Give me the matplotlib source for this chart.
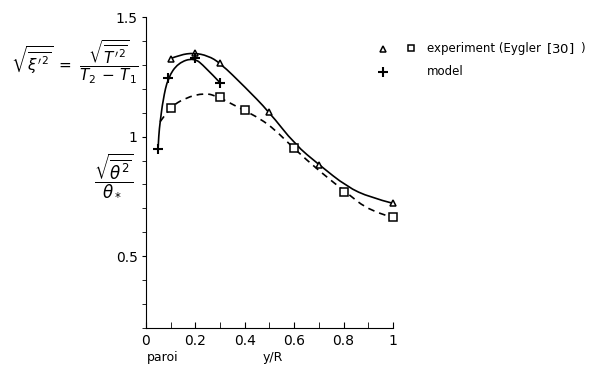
import matplotlib.pyplot as plt
from matplotlib.lines import Line2D
from matplotlib.path import Path
from matplotlib.patches import PathPatch
from matplotlib.ticker import MultipleLocator

# experiment (Eygler [30]) - triangles
tri_x = [0.1, 0.2, 0.3, 0.5, 0.7, 1.0]
tri_y = [1.325, 1.35, 1.308, 1.104, 0.883, 0.721]
# experiment - squares
sq_x = [0.1, 0.3, 0.4, 0.6, 0.8, 1.0]
sq_y = [1.121, 1.167, 1.112, 0.954, 0.767, 0.662]
# model - crosses
mod_x = [0.05, 0.09, 0.2, 0.3]
mod_y = [0.95, 1.246, 1.33, 1.225]

# hand drawn curves
tri_cx = [0.097, 0.138, 0.194, 0.251, 0.30, 0.40, 0.498, 0.603, 0.70, 0.814, 0.907, 1.0]
tri_cy = [1.325, 1.342, 1.35, 1.338, 1.308, 1.208, 1.104, 0.967, 0.883, 0.79, 0.746, 0.721]
sq_cx = [0.057, 0.097, 0.158, 0.239, 0.291, 0.393, 0.462, 0.522, 0.595, 0.704, 0.81, 0.907, 1.0]
sq_cy = [1.062, 1.121, 1.162, 1.183, 1.167, 1.112, 1.075, 1.029, 0.954, 0.854, 0.767, 0.688, 0.662]
mod_cx = [0.049, 0.052, 0.057, 0.069, 0.089, 0.13, 0.194, 0.239, 0.30]
mod_cy = [0.95, 1.01, 1.058, 1.154, 1.246, 1.308, 1.33, 1.292, 1.225]

xticks = [0, 0.2, 0.4, 0.6, 0.8, 1.0]
xlabels = ['0', '0.2', '0.4', '0.6', '0.8', '1']
yticks = [0.5, 1.0, 1.5]
ylabels = ['0.5', '1', '1.5']


def smooth_curve(ax, xs, ys, **kw):
    # quadratic bezier through the midpoints, read points act as control points
    pts = list(zip(xs, ys))
    verts = [pts[0]]
    codes = [Path.MOVETO]
    for i in range(1, len(pts) - 1):
        mid = ((pts[i][0] + pts[i + 1][0]) / 2, (pts[i][1] + pts[i + 1][1]) / 2)
        if i == len(pts) - 2:
            mid = pts[-1]
        verts += [pts[i], mid]
        codes += [Path.CURVE3, Path.CURVE3]
    ax.add_patch(PathPatch(Path(verts, codes), fill=False, **kw))


fig = plt.figure(figsize=(5.99, 3.68), dpi=100)
ax = fig.add_axes([0.2437, 0.1087, 0.4124, 0.8451])

smooth_curve(ax, tri_cx, tri_cy, ec='black', lw=1.2)
smooth_curve(ax, sq_cx, sq_cy, ec='black', lw=1.2, ls=(0, (4, 3)))
smooth_curve(ax, mod_cx, mod_cy, ec='black', lw=1.2)

ax.plot(tri_x, tri_y, ls='none', marker='^', ms=5, mfc='white', mec='black', mew=1.1, clip_on=False)
ax.plot(sq_x, sq_y, ls='none', marker='s', ms=5.5, mfc='white', mec='black', mew=1.1, clip_on=False)
ax.plot(mod_x, mod_y, ls='none', marker='+', ms=7, mec='black', mew=1.5, clip_on=False)

ax.set_xlim(0, 1.0)
ax.set_ylim(0.2, 1.5)
ax.spines['top'].set_visible(False)
ax.spines['right'].set_visible(False)
ax.set_xticks(xticks)
ax.set_xticklabels(xlabels)
ax.set_yticks(yticks)
ax.set_yticklabels(ylabels)
ax.xaxis.set_minor_locator(MultipleLocator(0.1))
ax.yaxis.set_minor_locator(MultipleLocator(0.1))
ax.tick_params(axis='x', which='both', direction='in', length=4, labelsize=10, pad=4)
ax.tick_params(axis='y', which='both', direction='out', length=3, labelsize=10, pad=3)

# formulas on the left
fig.text(0.125, 0.83, r'$\sqrt{\overline{\xi^{\prime\,2}}}\ =\ \dfrac{\sqrt{\overline{T^{\prime\,2}}}}{T_2\,-\,T_1}$',
         ha='center', va='center', fontsize=11)
fig.text(0.19, 0.525, r'$\dfrac{\sqrt{\overline{\theta^2}}}{\theta_*}$', ha='center', va='center', fontsize=12)

# hand made legend
fig.add_artist(Line2D([0.64], [0.868], transform=fig.transFigure, ls='none', marker='^',
                      ms=5, mfc='white', mec='black', mew=1.1))
fig.add_artist(Line2D([0.686], [0.870], transform=fig.transFigure, ls='none', marker='s',
                      ms=5, mfc='white', mec='black', mew=1.1))
fig.add_artist(Line2D([0.64], [0.805], transform=fig.transFigure, ls='none', marker='+',
                      ms=7, mec='black', mew=1.5))
fig.text(0.713, 0.868, 'experiment (Eygler', ha='left', va='center', fontsize=8.5)
fig.text(0.912, 0.868, r'$\left[30\right]$', ha='left', va='center', fontsize=9.5)
fig.text(0.968, 0.868, ')', ha='left', va='center', fontsize=8.5)
fig.text(0.713, 0.805, 'model', ha='left', va='center', fontsize=8.5)

fig.text(0.272, 0.028, 'paroi', ha='center', va='center', fontsize=9)
fig.text(0.455, 0.028, 'y/R', ha='center', va='center', fontsize=9)

fig.savefig('out.png', dpi=100, facecolor='white')
